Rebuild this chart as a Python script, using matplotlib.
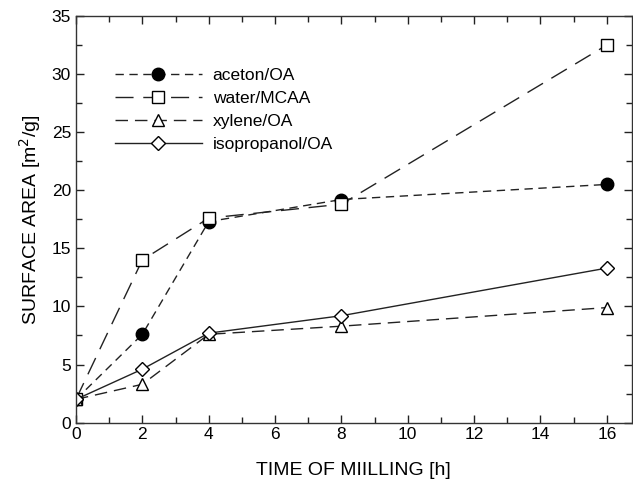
import matplotlib.pyplot as plt
from matplotlib.ticker import MultipleLocator

plt.rcParams['font.family'] = ['Liberation Sans', 'DejaVu Sans']

hours = [0, 2, 4, 8, 16]
aceton = [2.0, 7.6, 17.3, 19.2, 20.5]
water = [2.0, 14.0, 17.6, 18.8, 32.5]
xylene = [2.0, 3.3, 7.6, 8.3, 9.9]
isopropanol = [2.0, 4.6, 7.7, 9.2, 13.3]

fig = plt.figure(figsize=(6.33, 4.83), dpi=100)
ax = fig.add_axes([0.12, 0.125, 0.878, 0.842])

base = dict(color='#222222', lw=1.0, markeredgewidth=1.0, markeredgecolor='black')
ax.plot(hours, aceton, ls=(0, (6, 4)), marker='o', markerfacecolor='black',
        markersize=9, label='aceton/OA', **base)
ax.plot(hours, water, ls=(0, (13, 7)), marker='s', markerfacecolor='white',
        markersize=8, label='water/MCAA', **base)
ax.plot(hours, xylene, ls=(0, (9, 5)), marker='^', markerfacecolor='white',
        markersize=8.5, label='xylene/OA', **base)
ax.plot(hours, isopropanol, ls='-', marker='D', markerfacecolor='white',
        markersize=7.5, label='isopropanol/OA', **base)

ax.set_xlim(0, 16.75)
ax.set_ylim(0, 35)
ax.xaxis.set_major_locator(MultipleLocator(2))
ax.xaxis.set_minor_locator(MultipleLocator(1))
ax.yaxis.set_major_locator(MultipleLocator(5))
ax.yaxis.set_minor_locator(MultipleLocator(2.5))
ax.tick_params(which='both', direction='in', top=True, right=True,
               labelsize=12.5, width=1.0, color='#222222')
ax.tick_params(which='major', length=6)
ax.tick_params(which='minor', length=4)
for s in ax.spines.values():
    s.set_linewidth(1.0)
    s.set_color('#333333')

ax.set_xlabel('TIME OF MIILLING [h]', fontsize=14, labelpad=14)
ax.set_ylabel('SURFACE AREA [m$^2$/g]', fontsize=14, labelpad=6)

ax.legend(loc='upper left', bbox_to_anchor=(0.042, 0.91), frameon=False,
          fontsize=12.5, handlelength=5.0, handletextpad=0.63,
          labelspacing=0.45)

fig.savefig('out.png', dpi=100)
